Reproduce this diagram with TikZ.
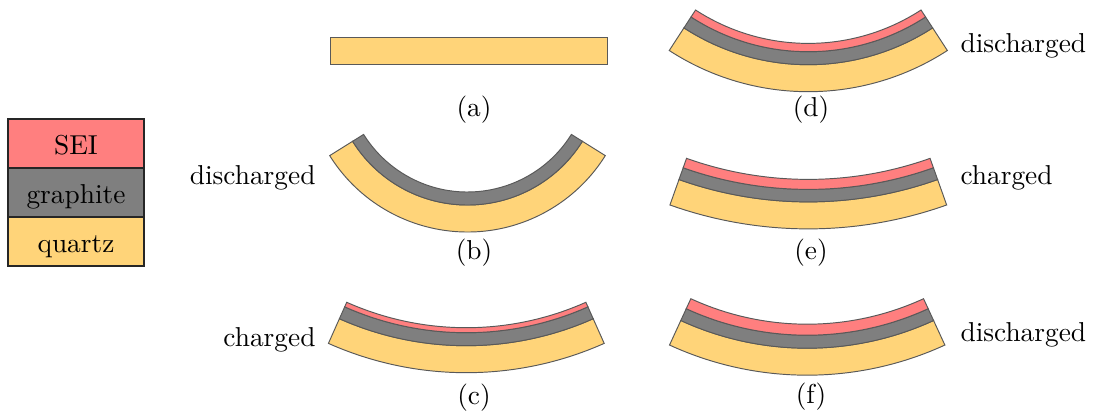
\documentclass[tikz,border=0pt]{standalone}
\definecolor{seic}{RGB}{255,127,127}
\definecolor{graphitec}{RGB}{127,127,127}
\definecolor{quartzc}{RGB}{255,212,121}
\newcommand{\annsec}[6]{%
  \draw[#6] ({#1+(#4)*cos(270-(#5))},{#2+(#4)*sin(270-(#5))})
    arc[start angle={270-(#5)}, end angle={270+(#5)}, radius={#4}]
    -- ({#1+(#3)*cos(270+(#5))},{#2+(#3)*sin(270+(#5))})
    arc[start angle={270+(#5)}, end angle={270-(#5)}, radius={#3}] -- cycle;}
\begin{document}
\begin{tikzpicture}[x=0.36563pt,y=0.36563pt,
  layer/.style={draw=black!65, line width=0.35pt},
  qz/.style={layer, fill=quartzc},
  gr/.style={layer, fill=graphitec},
  se/.style={layer, fill=seic},
  lbl/.style={inner sep=0pt},
  legbox/.style={draw=black!85, line width=0.6pt, minimum width=49.7pt,
    inner xsep=0pt, inner ysep=0pt, text height=12.8pt, text depth=5.1pt}]
\useasboundingbox (0,0) rectangle (1094,417);

% legend
\node[legbox, fill=seic] (lsei) at (76,273.5) {SEI};
\node[legbox, fill=graphitec] (lgra) at (76,224.5) {graphite};
\node[legbox, fill=quartzc] (lqua) at (76,175.5) {quartz};

% (a)
\draw[qz] (330,353) rectangle (607,380);
\node[lbl] (la) at (474,307.5) {(a)};

% (b)
\annsec{467.5}{347.5}{135.5}{162.5}{58}{qz}
\annsec{467.5}{347.5}{122.5}{135.5}{58}{gr}
\node[lbl] (lb) at (474,164) {(b)};
\node[lbl, anchor=east] (tb) at (316,239) {discharged};

% (c)
\annsec{466.3}{383.3}{312}{339}{24}{qz}
\annsec{466.3}{383.3}{299}{312}{24}{gr}
\annsec{466.3}{383.3}{294}{299}{24}{se}
\node[lbl] (lc) at (474,19) {(c)};
\node[lbl, anchor=east] (tc) at (316,77) {charged};

% (d)
\annsec{808.3}{580.6}{228.3}{255.3}{33}{qz}
\annsec{808.3}{580.6}{215.3}{228.3}{33}{gr}
\annsec{808.3}{580.6}{207}{215.3}{33}{se}
\node[lbl] (ld) at (811,307.5) {(d)};
\node[lbl, anchor=west] (td) at (960,371) {discharged};

% (e)
\annsec{808.3}{600.6}{385.5}{412.5}{19.6}{qz}
\annsec{808.3}{600.6}{373}{385.5}{19.6}{gr}
\annsec{808.3}{600.6}{363}{373}{19.6}{se}
\node[lbl] (le) at (811,164) {(e)};
\node[lbl, anchor=west] (te) at (960,239) {charged};

% (f)
\annsec{807.2}{371.3}{302.5}{329.5}{24.7}{qz}
\annsec{807.2}{371.3}{289.5}{302.5}{24.7}{gr}
\annsec{807.2}{371.3}{278.5}{289.5}{24.7}{se}
\node[lbl] (lf) at (811,20) {(f)};
\node[lbl, anchor=west] (tf) at (960,82) {discharged};
\end{tikzpicture}
\end{document}
